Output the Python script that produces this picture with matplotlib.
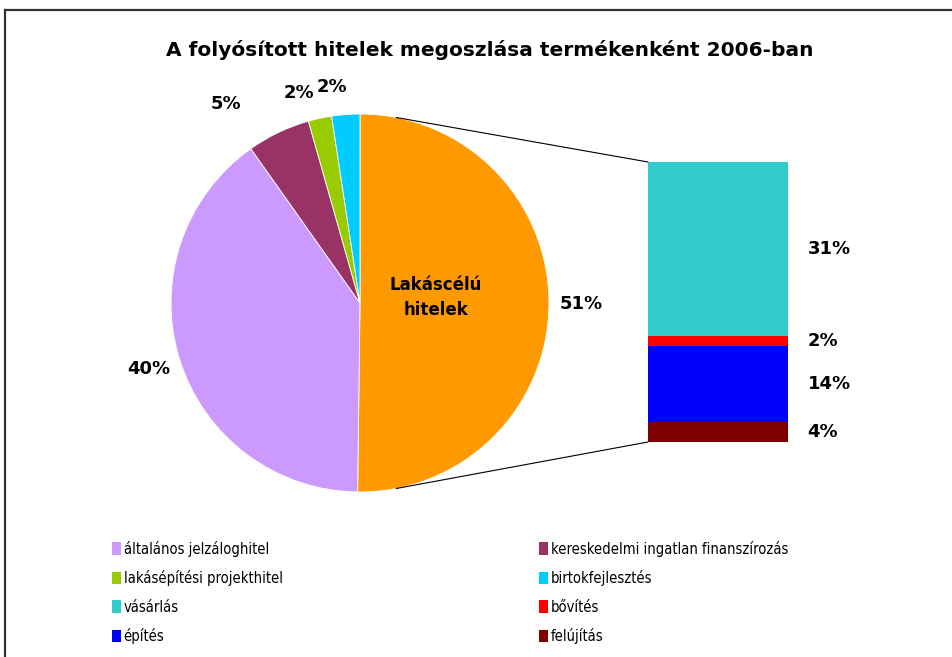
"""
Pie-of-bar chart: distribution of disbursed loans by product, 2006
"""
import numpy as np
import matplotlib
matplotlib.use('Agg')
import matplotlib.pyplot as plt
from matplotlib.patches import Patch, ConnectionPatch
from matplotlib.lines import Line2D

title = 'A folyósított hitelek megoszlása termékenként 2006-ban'

# pie: share of each product (%), clockwise from 12 o'clock
pie_labels = ['Lakáscélú hitelek', 'általános jelzáloghitel',
              'kereskedelmi ingatlan finanszírozás',
              'lakásépítési projekthitel', 'birtokfejlesztés']
pie_values = [50.2, 40.0, 5.4, 2.0, 2.4]
pie_text = ['51%', '40%', '5%', '2%', '2%']
pie_colors = ['#FF9900', '#CC99FF', '#993366', '#99CC00', '#00CCFF']

# breakdown of the housing loans (%), top to bottom
bar_labels = ['vásárlás', 'bővítés', 'építés', 'felújítás']
bar_values = [31.2, 1.8, 13.6, 3.6]
bar_text = ['31%', '2%', '14%', '4%']
bar_colors = ['#33CCCC', '#FF0000', '#0000FF', '#800000']

# label placement tweaks (angle nudge in degrees, radius) - avoid overlaps like Excel
lbl_nudge = [0, 0, 8.5, 4, 3]
lbl_rad = [1.17, 1.17, 1.27, 1.16, 1.15]

W, H = 953, 657
fig = plt.figure(figsize=(W / 100, H / 100), dpi=100)
fig.patch.set_facecolor('white')

def px(x, y, w, h):
    # pixel box (top-left origin) -> figure fraction rect
    return [x / W, 1 - (y + h) / H, w / W, h / H]

bold = dict(fontfamily='DejaVu Sans', fontweight='bold')

fig.text(490 / W, 1 - 50 / H, title, ha='center', va='center', fontsize=14.5, **bold)

# --- pie
ax_pie = fig.add_axes(px(171, 114, 378, 378))
wedges, _ = ax_pie.pie(pie_values, colors=pie_colors, startangle=90,
                       counterclock=False, radius=1,
                       wedgeprops=dict(edgecolor='white', linewidth=0.6))
ax_pie.set_xlim(-1, 1)
ax_pie.set_ylim(-1, 1)
ax_pie.set_aspect('equal')
ax_pie.axis('off')

for w, t, dn, r in zip(wedges, pie_text, lbl_nudge, lbl_rad):
    mid = np.deg2rad((w.theta1 + w.theta2) / 2 + dn)
    ax_pie.text(r * np.cos(mid), r * np.sin(mid), t,
                ha='center', va='center', fontsize=13, clip_on=False, **bold)

ax_pie.text(0.40, 0.03, 'Lakáscélú\nhitelek', ha='center', va='center',
            fontsize=12, linespacing=1.5, **bold)

# --- stacked bar for the housing loan slice
ax_bar = fig.add_axes(px(648, 162, 140, 280))
total = sum(bar_values)
top = total
for v, t, c in zip(bar_values, bar_text, bar_colors):
    ax_bar.bar(0.5, v, width=1, bottom=top - v, color=c, linewidth=0)
    ax_bar.text(1.14, top - v / 2, t, ha='left', va='center',
                fontsize=13, clip_on=False, **bold)
    top -= v
ax_bar.set_xlim(0, 1)
ax_bar.set_ylim(0, total)
ax_bar.axis('off')

# connector lines from pie edge to the bar corners
ang = np.deg2rad(79)
for sgn, yb in [(1, total), (-1, 0)]:
    con = ConnectionPatch(xyA=(np.cos(ang), sgn * np.sin(ang)), coordsA=ax_pie.transData,
                          xyB=(0, yb), coordsB=ax_bar.transData,
                          color='black', lw=0.8)
    fig.add_artist(con)

# --- legend, two columns
leg_font = dict(family='DejaVu Sans', stretch='condensed', size=10.5)
left_items = [(pie_labels[1], pie_colors[1]), (pie_labels[3], pie_colors[3]),
              (bar_labels[0], bar_colors[0]), (bar_labels[2], bar_colors[2])]
right_items = [(pie_labels[2], pie_colors[2]), (pie_labels[4], pie_colors[4]),
               (bar_labels[1], bar_colors[1]), (bar_labels[3], bar_colors[3])]
for items, x0 in [(left_items, 100), (right_items, 527)]:
    handles = [Patch(facecolor=c, edgecolor='none', label=l) for l, c in items]
    fig.legend(handles=handles, loc='upper left', bbox_to_anchor=(x0 / W, 1 - 529 / H),
               frameon=False, prop=leg_font, handlelength=0.62, handleheight=0.95,
               handletextpad=0.2, labelspacing=0.92, borderpad=0.3)

# chart border (cropped on right/bottom)
fig.add_artist(Line2D([5 / W, 5 / W], [0, 1 - 10 / H], color='#333333', lw=1.6))
fig.add_artist(Line2D([5 / W, 1], [1 - 10 / H, 1 - 10 / H], color='#333333', lw=1.6))

fig.savefig('out.png', dpi=100, facecolor='white')
